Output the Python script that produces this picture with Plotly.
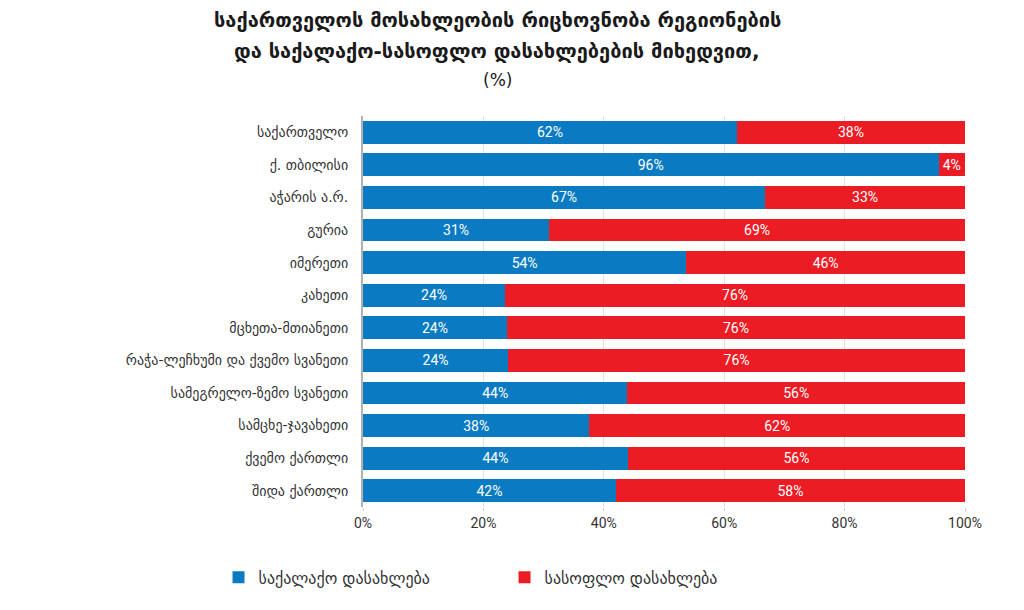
import plotly.graph_objs as go

# regions, top to bottom as in the source chart
regions = [
    "საქართველო",
    "ქ. თბილისი",
    "აჭარის ა.რ.",
    "გურია",
    "იმერეთი",
    "კახეთი",
    "მცხეთა-მთიანეთი",
    "რაჭა-ლეჩხუმი და ქვემო სვანეთი",
    "სამეგრელო-ზემო სვანეთი",
    "სამცხე-ჯავახეთი",
    "ქვემო ქართლი",
    "შიდა ქართლი",
]

# share of population, %
urban = [62.1, 95.6, 66.8, 30.9, 53.7, 23.6, 23.9, 24.1, 43.9, 37.6, 44.0, 42.0]
rural = [37.9, 4.4, 33.2, 69.1, 46.3, 76.4, 76.1, 75.9, 56.1, 62.4, 56.0, 58.0]

urban_name = "საქალაქო დასახლება"
rural_name = "სასოფლო დასახლება"

title_lines = [
    "საქართველოს მოსახლეობის რიცხოვნობა რეგიონების",
    "და საქალაქო-სასოფლო დასახლებების მიხედვით,",
    "(%)",
]

x_ticks = [0, 20, 40, 60, 80, 100]

BLUE = "#0a7bc2"
RED = "#ec1c24"

fig = go.Figure()
for vals, name, col in [(urban, urban_name, BLUE), (rural, rural_name, RED)]:
    fig.add_trace(go.Bar(
        y=regions, x=vals, name=name, orientation="h",
        marker=dict(color=col, line=dict(width=0)),
        text=[f"{round(v)}%" for v in vals], textposition="inside",
        insidetextanchor="middle", textangle=0, constraintext="none",
        textfont=dict(color="white", size=14, family="Roboto, DejaVu Sans"),
    ))

#title lines as separate annotations to get the wide line spacing
title_y = [1.246, 1.166, 1.092]
for txt, ty, bold in zip(title_lines, title_y, [True, True, False]):
    fig.add_annotation(
        text=f"<b>{txt}</b>" if bold else txt,
        xref="paper", yref="paper", x=0.223, y=ty,
        xanchor="center", yanchor="middle", showarrow=False,
        font=dict(size=20 if bold else 17, color="#1a1a1a", family="DejaVu Sans"),
    )

# page has ~8px body offset, so margins are shifted back by that much
fig.update_layout(
    barmode="stack",
    bargap=0.3,
    width=1024, height=610,
    margin=dict(l=355, r=67, t=108, b=111, autoexpand=False),
    plot_bgcolor="white", paper_bgcolor="white",
    uniformtext=dict(minsize=9, mode="show"),
    showlegend=True,
    legend=dict(
        orientation="h", x=-0.240, xanchor="left",
        y=-0.18, yanchor="middle",
        entrywidth=241, entrywidthmode="pixels",
        font=dict(size=16, color="#333", family="DejaVu Sans"),
        traceorder="normal",
    ),
    font=dict(family="DejaVu Sans", color="#333"),
)
fig.update_xaxes(
    range=[0, 100], tickvals=x_ticks, ticktext=[f"{t}%" for t in x_ticks],
    tickangle=0,
    showgrid=True, gridcolor="#e0e0e0", gridwidth=1,
    zeroline=False, showline=False,
    ticks="outside", ticklen=3, tickcolor="#cccccc",
    tickfont=dict(size=14, color="#333", family="Roboto, DejaVu Sans"),
)
fig.update_yaxes(
    autorange="reversed", showgrid=False,
    showline=True, linecolor="#b0b0b0", linewidth=2,
    ticks="", ticklabelstandoff=10,
    tickfont=dict(size=14, color="#333", family="DejaVu Sans"),
)

fig.write_html("out.html")
